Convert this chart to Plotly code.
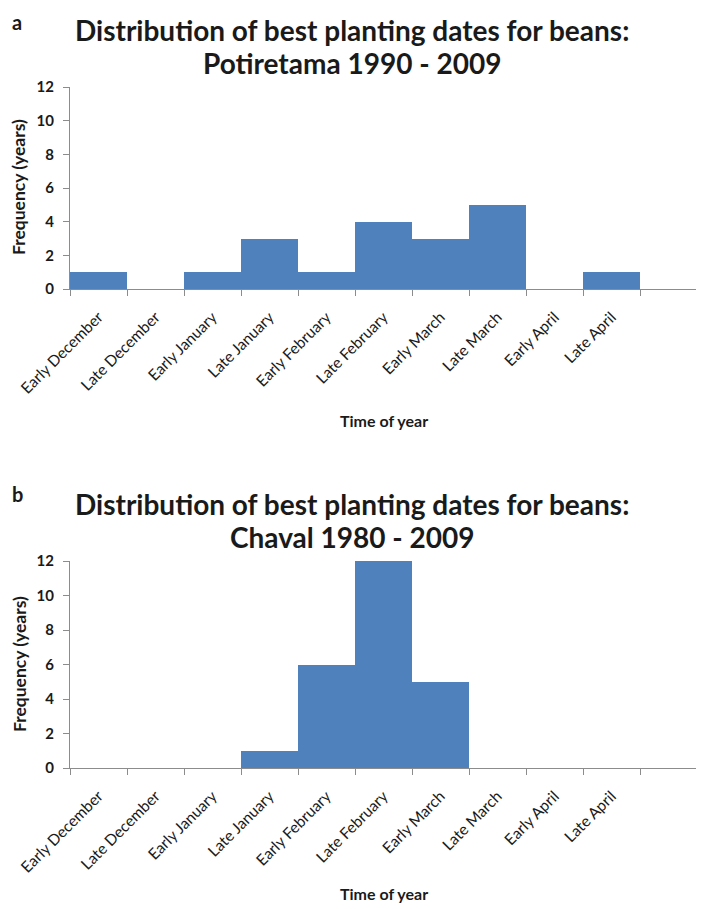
import plotly.graph_objects as go

categories = ["Early December", "Late December", "Early January", "Late January",
              "Early February", "Late February", "Early March", "Late March",
              "Early April", "Late April", " "]
values_a = [1, 0, 1, 3, 1, 4, 3, 5, 0, 1, 0]
values_b = [0, 0, 0, 1, 6, 12, 5, 0, 0, 0, 0]
y_ticks = [0, 2, 4, 6, 8, 10, 12]

title_line1 = "Distribution of best planting dates for beans:"
title_a_line2 = "Potiretama 1990 - 2009"
title_b_line2 = "Chaval 1980 - 2009"

W, H = 704, 909
OFF = 8  # page body margin offset (screen px)
FONT = "Lato"
BAR = "#4F81BD"
AX = "#8C8C8C"
TXT = "#1a1a1a"


def px(sx):
    return (sx - OFF) / W


def py(sy):
    return 1 - (sy - OFF) / H


fig = go.Figure()
fig.add_trace(go.Bar(x=categories, y=values_a, marker=dict(color=BAR, line=dict(width=0)),
                     xaxis="x", yaxis="y", width=1.0, hoverinfo="x+y"))
fig.add_trace(go.Bar(x=categories, y=values_b, marker=dict(color=BAR, line=dict(width=0)),
                     xaxis="x2", yaxis="y2", width=1.0, hoverinfo="x+y"))

xd = [px(70), px(697)]
ya = [py(289), py(87)]
yb = [py(768), py(561)]

xaxis_common = dict(
    type="category", categoryorder="array", categoryarray=categories,
    range=[-0.5, len(categories) - 0.5], tickson="boundaries",
    ticks="outside", ticklen=6, tickcolor=AX, tickwidth=1,
    showline=True, linecolor=AX, linewidth=1, showgrid=False, zeroline=False,
    tickangle=-45, tickfont=dict(family=FONT, size=15.5, color=TXT),
    ticklabelstandoff=12,
    fixedrange=True, automargin=False,
)
yaxis_common = dict(
    range=[0, 12], tickvals=y_ticks, ticks="outside", ticklen=6, tickcolor=AX,
    showline=True, linecolor=AX, linewidth=1, showgrid=False, zeroline=False,
    tickfont=dict(family=FONT, size=15, color=TXT, weight="bold"), fixedrange=True,
    ticklabelstandoff=6, automargin=False,
)

fig.update_layout(
    width=W, height=H, margin=dict(l=0, r=0, t=0, b=0, autoexpand=False),
    paper_bgcolor="white", plot_bgcolor="white", showlegend=False,
    bargap=0,
    xaxis=dict(domain=xd, anchor="y", **xaxis_common),
    yaxis=dict(domain=ya, anchor="x", **yaxis_common),
    xaxis2=dict(domain=xd, anchor="y2", **xaxis_common),
    yaxis2=dict(domain=yb, anchor="x2", **yaxis_common),
)


def ann(text, x, y, size, bold=True, angle=0, xanchor="center"):
    t = f"<b>{text}</b>" if bold else text
    fig.add_annotation(text=t, x=px(x), y=py(y), xref="paper", yref="paper",
                       showarrow=False, textangle=angle, xanchor=xanchor, yanchor="middle",
                       font=dict(family=FONT, size=size, color=TXT))


# panel letters
ann("a", 17, 22, 20)
ann("b", 17, 494, 20)
# titles
ann(title_line1, 352, 30, 28)
ann(title_a_line2, 352, 63, 28)
ann(title_line1, 352, 504, 28)
ann(title_b_line2, 352, 537, 28)
# y axis titles
ann("Frequency (years)", 19, 187, 17.5, angle=-90)
ann("Frequency (years)", 19, 664, 17.5, angle=-90)
# x axis titles
ann("Time of year", 384, 420, 16)
ann("Time of year", 384, 893, 16)

fig.write_html("out.html")
